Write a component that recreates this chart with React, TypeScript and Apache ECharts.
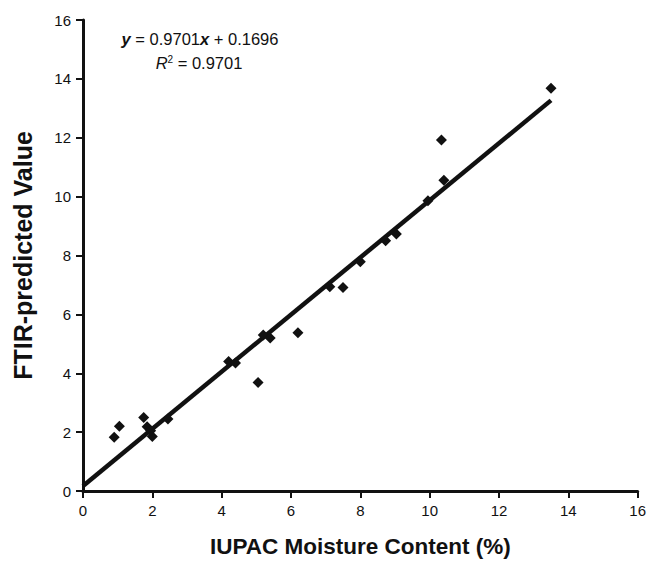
import React, { useEffect, useRef } from "react";
import * as echarts from "echarts";

const iupacX = [0.9, 1.05, 1.75, 1.85, 2.0, 1.95, 2.45, 4.2, 4.4, 5.05, 5.2, 5.4, 6.2, 7.12, 7.5, 8.0, 8.73, 9.04, 9.95, 10.34, 10.41, 13.5];
const ftirY = [1.83, 2.2, 2.5, 2.18, 1.85, 2.05, 2.45, 4.4, 4.35, 3.69, 5.3, 5.2, 5.38, 6.94, 6.91, 7.79, 8.5, 8.73, 9.86, 11.92, 10.56, 13.68];
const trendX = [0, 13.5];
const trendY = [0.1696, 13.27];
const axisTicks = [0, 2, 4, 6, 8, 10, 12, 14, 16];

const FONT = "'Liberation Sans', Arial, sans-serif";
const INK = "#111111";

export default function App() {
  const ref = useRef<HTMLDivElement>(null);
  useEffect(() => {
    if (!ref.current) return;
    const chart = echarts.init(ref.current, undefined, { renderer: "svg" });
    const axisCommon = {
      type: "value",
      min: axisTicks[0],
      max: axisTicks[axisTicks.length - 1],
      interval: 2,
      nameLocation: "middle",
      axisLine: { show: true, onZero: false, lineStyle: { color: INK, width: 3 } },
      axisTick: { show: true, inside: false, length: 7, lineStyle: { color: INK, width: 2 } },
      axisLabel: { fontFamily: FONT, fontSize: 15, color: INK },
      splitLine: { show: false },
    };
    chart.setOption({
      animation: false,
      backgroundColor: "#ffffff",
      grid: { left: 83, right: 9, top: 20, bottom: 73, containLabel: false },
      xAxis: {
        ...axisCommon,
        name: "IUPAC Moisture Content (%)",
        nameGap: 44,
        nameTextStyle: { fontFamily: FONT, fontWeight: "bold", fontSize: 22.5, color: INK },
        axisLabel: { ...axisCommon.axisLabel, margin: 12 },
      },
      yAxis: {
        ...axisCommon,
        name: "FTIR-predicted Value",
        nameGap: 48,
        nameTextStyle: { fontFamily: FONT, fontWeight: "bold", fontSize: 25, color: INK },
        axisLabel: { ...axisCommon.axisLabel, margin: 12 },
      },
      series: [
        {
          type: "line",
          data: trendX.map((x, i) => [x, trendY[i]]),
          showSymbol: false,
          symbol: "none",
          lineStyle: { color: INK, width: 4.5 },
          z: 2,
        },
        {
          type: "scatter",
          data: iupacX.map((x, i) => [x, ftirY[i]]),
          symbol: "diamond",
          symbolSize: 11,
          itemStyle: { color: INK, opacity: 1 },
          z: 3,
        },
      ],
      graphic: [
        {
          type: "text",
          x: 200,
          y: 39,
          style: {
            text: "{b|y} = 0.9701{b|x} + 0.1696",
            fontFamily: FONT,
            fontSize: 16.5,
            fill: INK,
            align: "center",
            verticalAlign: "middle",
            rich: {
              b: { fontFamily: FONT, fontSize: 16.5, fontStyle: "italic", fontWeight: "bold", fill: INK },
            },
          },
        },
        {
          type: "text",
          x: 199,
          y: 63,
          style: {
            text: "{i|R}{s|2} = 0.9701",
            fontFamily: FONT,
            fontSize: 16.5,
            fill: INK,
            align: "center",
            verticalAlign: "middle",
            rich: {
              i: { fontFamily: FONT, fontSize: 16.5, fontStyle: "italic", fill: INK },
              s: { fontFamily: FONT, fontSize: 10, verticalAlign: "top", fill: INK, padding: [0, 0, 8, 0] },
            },
          },
        },
      ],
    });
    return () => chart.dispose();
  }, []);
  return (
    <div
      ref={ref}
      style={{ position: "fixed", left: 0, top: 0, width: 649, height: 564, background: "#fff" }}
    />
  );
}
